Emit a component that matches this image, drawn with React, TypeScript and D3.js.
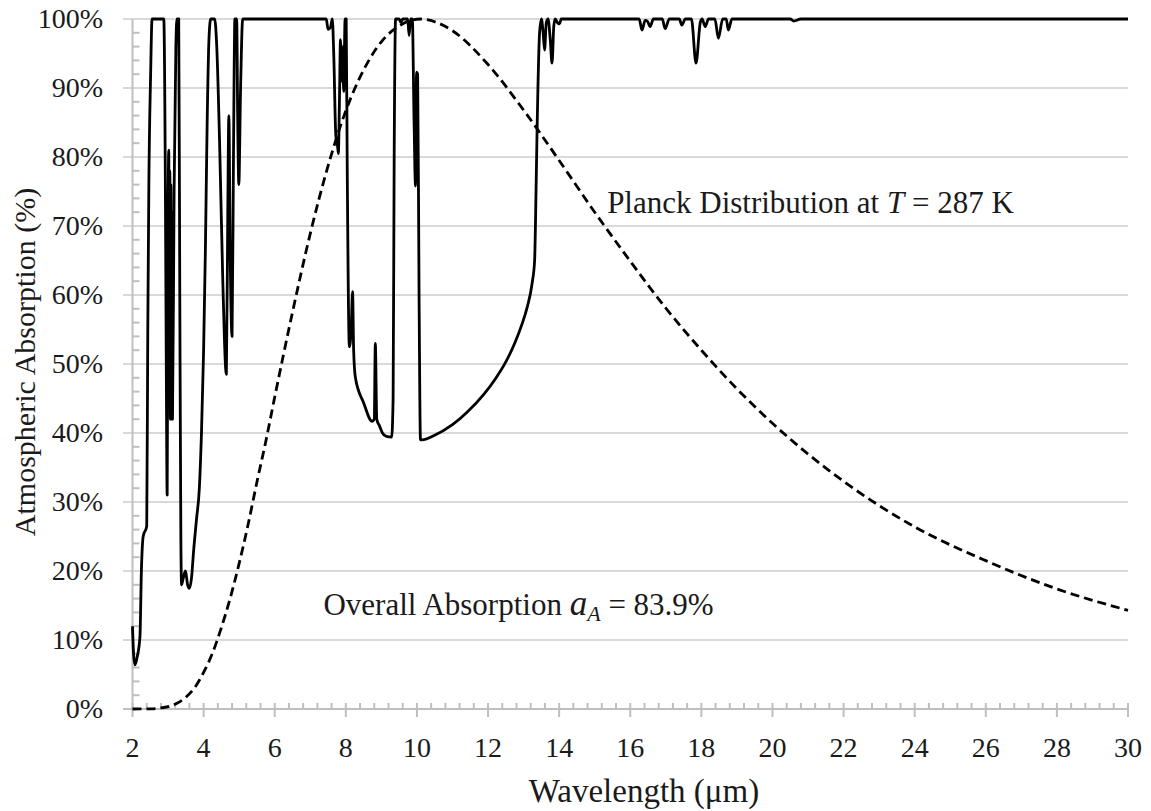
import React from "react";
import * as d3 from "d3";

// Atmospheric absorption (%) vs wavelength (µm)
const absWavelength = [
  2.0, 2.03, 2.07, 2.13, 2.21, 2.25, 2.3, 2.4, 2.43, 2.46, 2.51, 2.55, 2.88, 2.92, 2.95, 2.975, 3.0, 3.02, 3.035,
  3.05, 3.065, 3.08, 3.095, 3.11, 3.125, 3.17, 3.22, 3.25, 3.3, 3.33, 3.36, 3.38, 3.43, 3.49, 3.55, 3.6, 3.66,
  3.72, 3.8, 3.88, 3.94, 4.0, 4.05, 4.1, 4.15, 4.2, 4.31, 4.37, 4.45, 4.54, 4.64, 4.68, 4.71, 4.75, 4.8, 4.84,
  4.88, 4.93, 4.96, 4.99, 5.04, 5.1, 7.45, 7.5, 7.57, 7.62, 7.66, 7.72, 7.76, 7.79, 7.82, 7.85, 7.88, 7.91, 7.94,
  7.98, 8.01, 8.04, 8.1, 8.15, 8.19, 8.22, 8.27, 8.5, 8.74, 8.8, 8.83, 8.87, 8.95, 9.03, 9.14, 9.29, 9.33, 9.36,
  9.4, 9.5, 9.55, 9.6, 9.74, 9.78, 9.82, 9.87, 9.92, 9.96, 9.99, 10.02, 10.06, 10.1, 10.15, 10.47, 11.0, 11.41,
  11.88, 12.2, 12.5, 12.75, 12.95, 13.1, 13.24, 13.31, 13.35, 13.38, 13.45, 13.5, 13.55, 13.59, 13.64, 13.69, 13.75,
  13.8, 13.85, 13.89, 13.95, 14.01, 14.06, 16.25, 16.33, 16.42, 16.48, 16.56, 16.65, 16.9, 16.98, 17.1, 17.38,
  17.45, 17.55, 17.72, 17.85, 17.97, 18.02, 18.11, 18.2, 18.38, 18.48, 18.6, 18.7, 18.76, 18.86, 20.5, 20.6,
  20.8, 30.0,
];
const absPercent = [
  12, 8, 6.4, 7.5, 10.5, 20, 25, 26.5, 55, 76, 92, 100, 100, 80, 50, 31, 70, 81, 45,
  78, 42, 76, 42, 72, 42, 75, 96, 100, 100, 60, 25, 18, 19, 20, 18, 17.5, 19,
  23, 27.5, 32, 40, 52, 66.5, 85, 97, 100, 100, 96, 82, 62, 48.5, 72, 86, 65, 54, 80,
  100, 100, 85, 76, 90, 100, 100, 98.5, 98.8, 100, 95, 83, 82, 80.5, 88, 97, 91, 96, 89.5,
  100, 100, 78, 52.5, 55, 60.5, 52, 48, 44.4, 41.7, 42, 53, 42, 41, 40, 39.5, 39.4, 45, 80,
  100, 100, 99.5, 100, 100, 97.6, 100, 100, 85, 75.8, 92.3, 92, 60, 39, 39, 39.6, 41.2, 43.0,
  45.6, 47.8, 50.3, 53.0, 55.7, 58.2, 61.7, 65, 75, 84, 98, 100, 98, 95.5, 99.5, 100, 97,
  93.6, 99, 100, 99.5, 99.3, 100, 100, 98.4, 99.8, 99.7, 98.9, 100, 100, 98.6, 100, 100,
  99.1, 100, 100, 93.6, 99.5, 100, 98.9, 100, 100, 97.2, 100, 100, 98.4, 100, 100, 99.7,
  100, 100,
];

// Planck distribution at T = 287 K (normalised, %)
const planckWavelength = [
  2.0, 2.5, 2.8, 3.0, 3.25, 3.5, 3.75, 4.0, 4.25, 4.5, 4.75, 5.0, 5.25, 5.5, 5.75, 6.0, 6.5, 7.0, 7.5, 8.0,
  8.5, 9.0, 9.5, 10.1, 10.5, 11, 12, 13, 14, 15, 16, 17, 18, 19, 20, 22, 24, 26, 28, 30,
];
const planckPercent = [
  0, 0.03, 0.15, 0.34, 0.83, 1.7, 3.1, 5.3, 8.1, 11.8, 16.1, 21.1, 26.7, 32.9, 38.8, 45.2, 57.5, 68.9, 78.7, 86.7,
  92.6, 96.7, 99.0, 100, 99.6, 98.3, 93.4, 86.8, 79.5, 72.0, 64.9, 58.1, 52.0, 46.4, 41.4, 33.0, 26.4, 21.5, 17.4, 14.3,
];

const xTicks = [2, 4, 6, 8, 10, 12, 14, 16, 18, 20, 22, 24, 26, 28, 30];
const yTicks = [0, 10, 20, 30, 40, 50, 60, 70, 80, 90, 100];

const W = 1151;
const H = 811;
const FONT = "'Liberation Serif', 'Times New Roman', serif";
const GRID = "#d9d9d9";
const AXIS = "#bfbfbf";
const TEXT = "#1a1a1a";

export default function App() {
  const x = d3.scaleLinear().domain([2, 30]).range([132.5, 1128]);
  const y = d3.scaleLinear().domain([0, 100]).range([709, 19]);

  const absData = absWavelength.map((w, i) => [w, absPercent[i]] as [number, number]);
  const planckData = planckWavelength.map((w, i) => [w, planckPercent[i]] as [number, number]);

  const line = d3
    .line<[number, number]>()
    .x((d) => x(d[0]))
    .y((d) => y(d[1]))
    .curve(d3.curveMonotoneX);

  const minorX = d3.range(2, 30.0001, 0.4).filter((v) => Math.abs(v / 2 - Math.round(v / 2)) > 0.01);
  const minorY = d3.range(0, 100.001, 2).filter((v) => v % 10 !== 0);

  return (
    <svg
      width={W}
      height={H}
      viewBox={`0 0 ${W} ${H}`}
      style={{ position: "absolute", left: 0, top: 0, background: "#fff" }}
      fontFamily={FONT}
    >
      <rect x={0} y={0} width={W} height={H} fill="#fff" />
      {/* horizontal gridlines */}
      {yTicks.map((t) => (
        <line key={"g" + t} x1={123} x2={x(30)} y1={y(t)} y2={y(t)} stroke={GRID} strokeWidth={2} />
      ))}
      {/* y axis */}
      <line x1={x(2)} x2={x(2)} y1={y(0)} y2={y(100)} stroke={AXIS} strokeWidth={2} />
      {minorY.map((t) => (
        <line key={"my" + t} x1={x(2)} x2={x(2) + 7} y1={y(t)} y2={y(t)} stroke={AXIS} strokeWidth={2} />
      ))}
      {/* x axis */}
      <line x1={123} x2={x(30)} y1={y(0)} y2={y(0)} stroke={AXIS} strokeWidth={2} />
      {minorX.map((t) => (
        <line key={"mx" + t} x1={x(t)} x2={x(t)} y1={y(0) - 6} y2={y(0)} stroke={AXIS} strokeWidth={2} />
      ))}
      {xTicks.map((t) => (
        <line key={"tx" + t} x1={x(t)} x2={x(t)} y1={y(0) - 6} y2={y(0) + 8} stroke={AXIS} strokeWidth={2} />
      ))}

      {/* y tick labels */}
      {yTicks.map((t) => (
        <text key={"yl" + t} x={103} y={y(t) + 9} textAnchor="end" fontSize={28} fill={TEXT}>
          {t}%
        </text>
      ))}
      {/* x tick labels */}
      {xTicks.map((t) => (
        <text key={"xl" + t} x={x(t)} y={757} textAnchor="middle" fontSize={28} fill={TEXT}>
          {t}
        </text>
      ))}

      {/* axis titles */}
      <text x={644} y={802} textAnchor="middle" fontSize={33} fill={TEXT}>
        Wavelength (μm)
      </text>
      <text
        transform={`translate(35, ${y(50) - 2}) rotate(-90)`}
        textAnchor="middle"
        fontSize={30}
        fill={TEXT}
      >
        Atmospheric Absorption (%)
      </text>

      {/* series */}
      <path d={line(planckData) || ""} fill="none" stroke="#000" strokeWidth={2.8} strokeDasharray="9,5" />
      <path d={line(absData) || ""} fill="none" stroke="#000" strokeWidth={2.8} strokeLinejoin="round" />

      {/* annotations */}
      <text x={x(15.35)} y={y(71.9)} fontSize={31} fill={TEXT}>
        Planck Distribution at <tspan fontStyle="italic">T</tspan> = 287 K
      </text>
      <text x={x(7.37)} y={y(13.6)} fontSize={31} fill={TEXT}>
        Overall Absorption{" "}
        <tspan fontStyle="italic" fontSize={35}>
          a
        </tspan>
        <tspan fontStyle="italic" fontSize={22} dy={6}>
          A
        </tspan>
        <tspan dy={-6}> = 83.9%</tspan>
      </text>
    </svg>
  );
}
